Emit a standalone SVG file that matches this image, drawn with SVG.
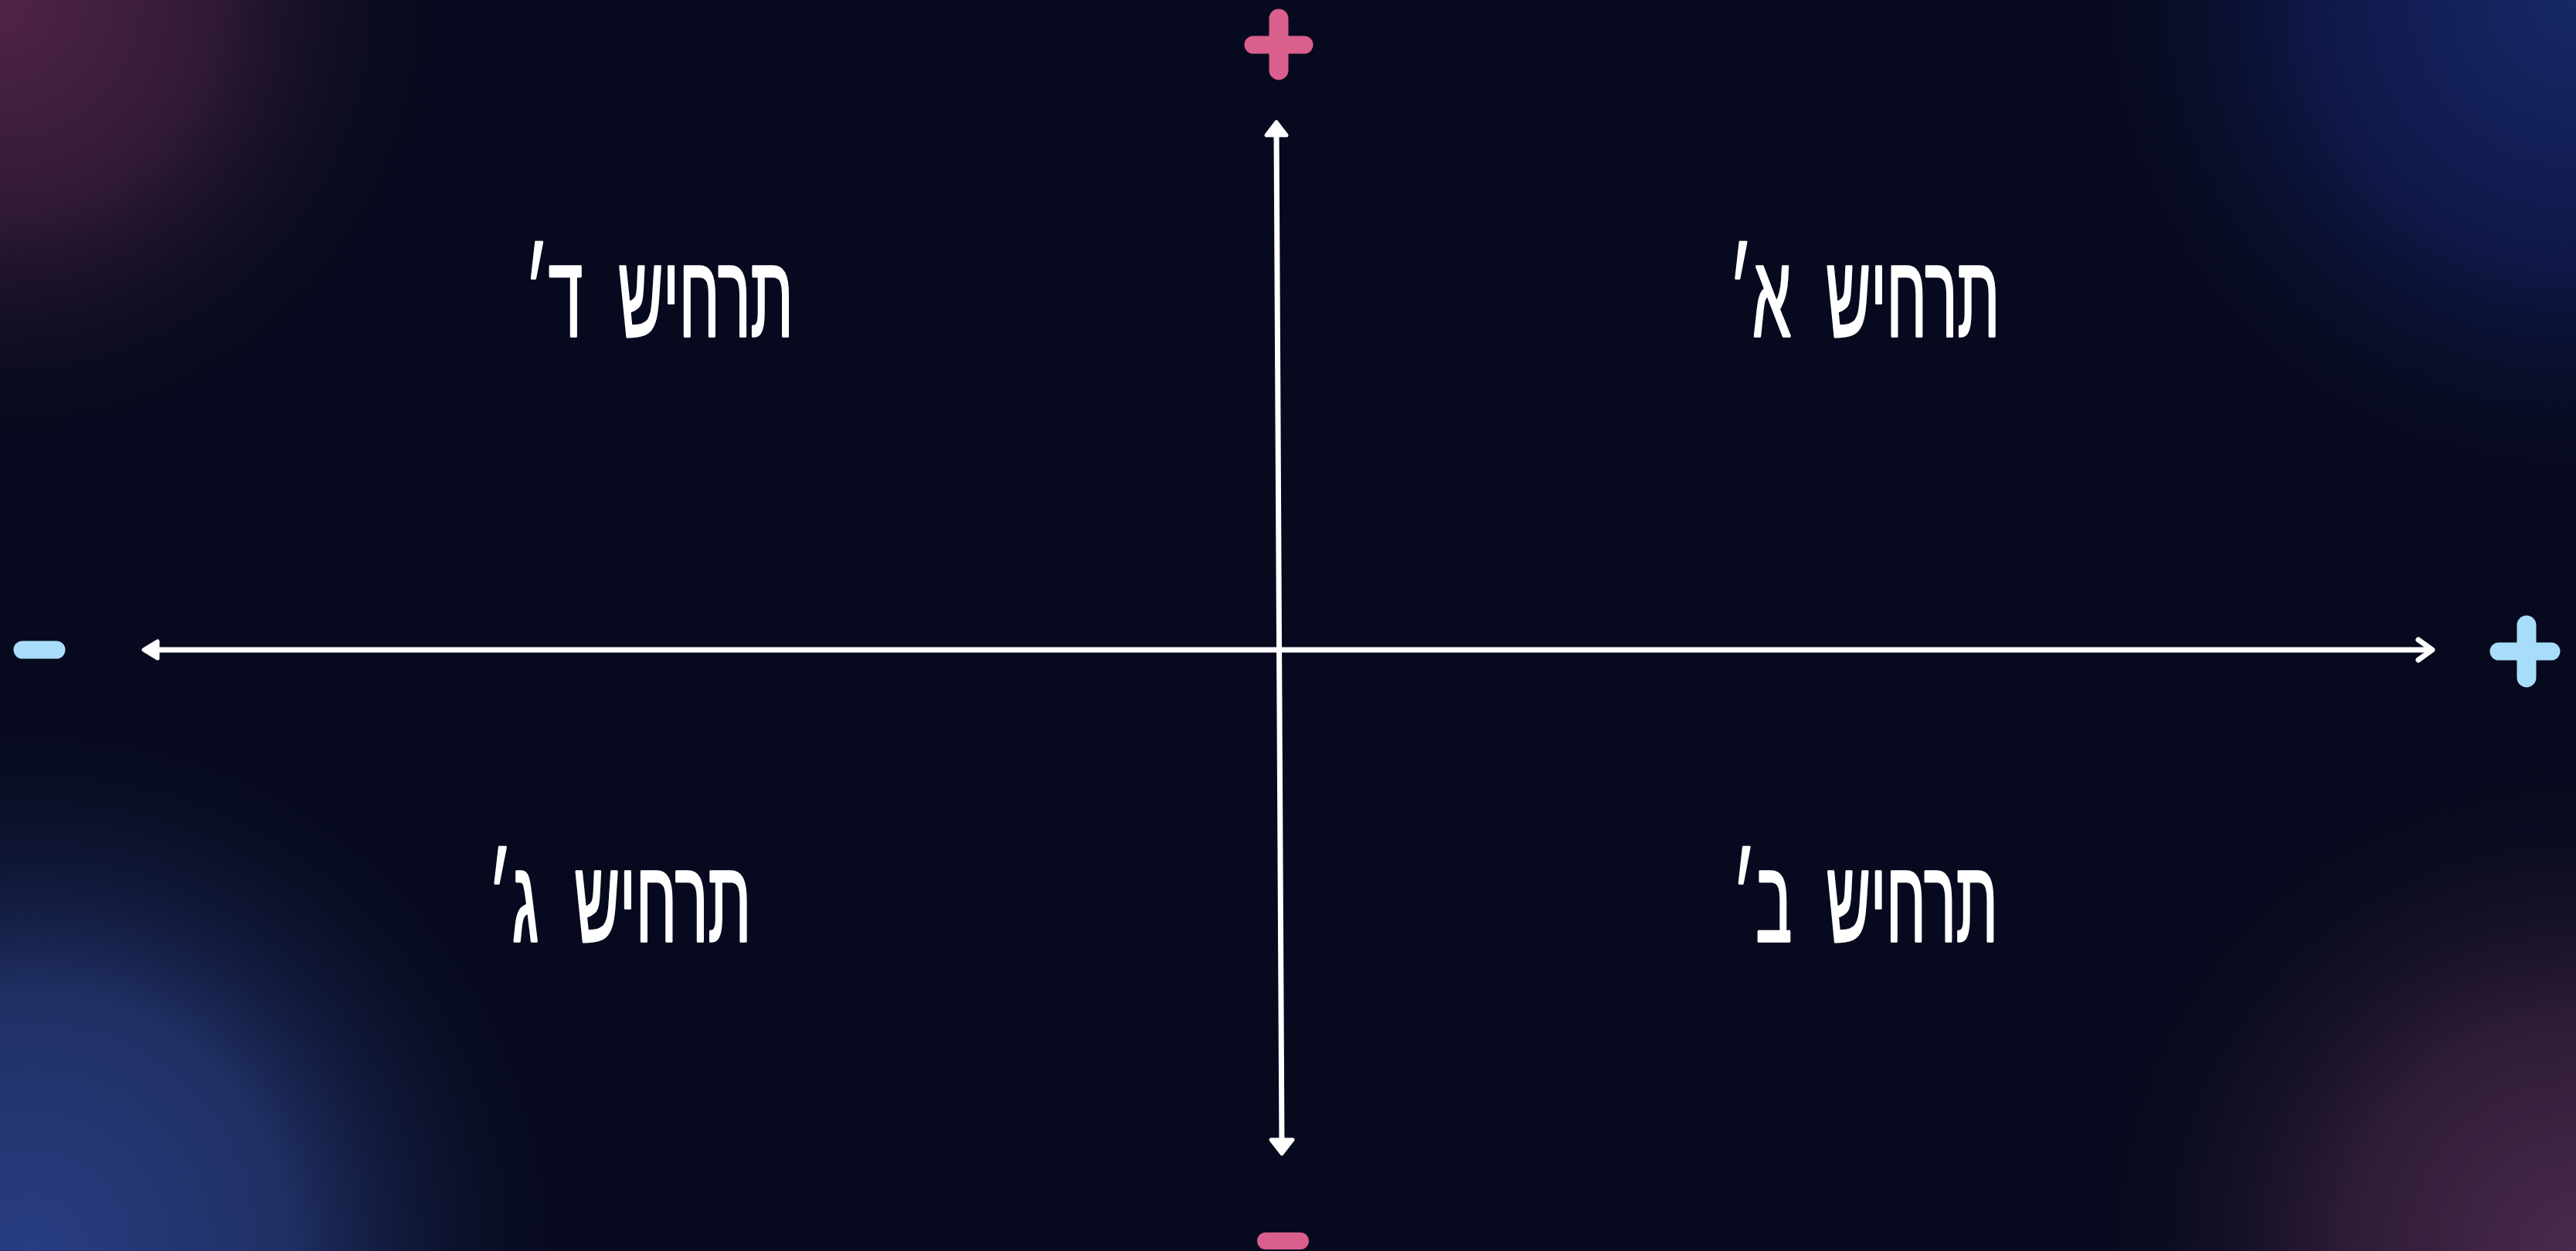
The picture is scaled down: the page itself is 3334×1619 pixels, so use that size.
<svg xmlns="http://www.w3.org/2000/svg" width="3334" height="1619" viewBox="0 0 3334 1619">
<defs>
<radialGradient id="gTL" cx="0" cy="0" r="600" gradientUnits="userSpaceOnUse">
<stop offset="0" stop-color="#512446"/><stop offset="0.45" stop-color="#311a35"/><stop offset="1" stop-color="#070a1e" stop-opacity="0"/>
</radialGradient>
<radialGradient id="gTR" cx="3334" cy="0" r="680" gradientUnits="userSpaceOnUse">
<stop offset="0" stop-color="#172868"/><stop offset="0.5" stop-color="#0f1848"/><stop offset="1" stop-color="#070a1e" stop-opacity="0"/>
</radialGradient>
<radialGradient id="gBL" cx="40" cy="1619" r="740" gradientUnits="userSpaceOnUse">
<stop offset="0" stop-color="#283d82"/><stop offset="0.45" stop-color="#203064"/><stop offset="1" stop-color="#070a1e" stop-opacity="0"/>
</radialGradient>
<radialGradient id="gBR" cx="3334" cy="1619" r="660" gradientUnits="userSpaceOnUse">
<stop offset="0" stop-color="#4a2a4c"/><stop offset="0.45" stop-color="#2e1c36"/><stop offset="1" stop-color="#070a1e" stop-opacity="0"/>
</radialGradient>
<style>
.lbl{font-family:"Liberation Sans","DejaVu Sans",sans-serif;font-size:150px;fill:#ffffff;stroke:#ffffff;stroke-width:3.5;stroke-linejoin:round;text-anchor:middle;word-spacing:45px;}
.axis{stroke:#ffffff;stroke-width:7;fill:none;stroke-linecap:round;}
.head{fill:#ffffff;stroke:#ffffff;stroke-width:5;stroke-linejoin:round;}
.pink{stroke:#d95f8d;stroke-linecap:round;fill:none;}
.blue{stroke:#a8ddfa;stroke-linecap:round;fill:none;}
</style>
</defs>
<rect width="3334" height="1619" fill="#070a1e"/>
<rect width="3334" height="1619" fill="url(#gTL)"/>
<rect width="3334" height="1619" fill="url(#gTR)"/>
<rect width="3334" height="1619" fill="url(#gBL)"/>
<rect width="3334" height="1619" fill="url(#gBR)"/>

<g id="connectors">
<line class="axis" x1="190" y1="841" x2="3146" y2="841"/>
<line class="axis" x1="1652" y1="165" x2="1659" y2="1485"/>
<polygon class="head" points="186,841 204,830 204,852"/>
<polyline class="axis" stroke-width="8" points="3130,828 3148,841 3130,854" stroke-linejoin="round"/>
<polygon class="head" points="1652,158 1639,175 1665,175"/>
<polygon class="head" points="1659,1493 1645,1475 1673,1475"/>
</g>

<g id="sign-top-plus">
<line class="pink" x1="1655" y1="24" x2="1655" y2="91" stroke-width="25"/>
<line class="pink" x1="1622" y1="58" x2="1688" y2="58" stroke-width="23"/>
</g>
<g id="sign-bottom-minus">
<line class="pink" x1="1638" y1="1606" x2="1683" y2="1606" stroke-width="22"/>
</g>
<g id="sign-left-minus">
<line class="blue" x1="29" y1="841" x2="73" y2="841" stroke-width="23"/>
</g>
<g id="sign-right-plus">
<line class="blue" x1="3270" y1="809" x2="3270" y2="877" stroke-width="25"/>
<line class="blue" x1="3234" y1="843" x2="3302" y2="843" stroke-width="23"/>
</g>

<g id="scenario-a"><text class="lbl" x="2413" y="435" textLength="350" lengthAdjust="spacingAndGlyphs">תרחיש א׳</text></g>
<g id="scenario-b"><text class="lbl" x="2414" y="1218" textLength="343" lengthAdjust="spacingAndGlyphs">תרחיש ב׳</text></g>
<g id="scenario-c"><text class="lbl" x="802" y="1218" textLength="340" lengthAdjust="spacingAndGlyphs">תרחיש ג׳</text></g>
<g id="scenario-d"><text class="lbl" x="853" y="435" textLength="347" lengthAdjust="spacingAndGlyphs">תרחיש ד׳</text></g>
</svg>
